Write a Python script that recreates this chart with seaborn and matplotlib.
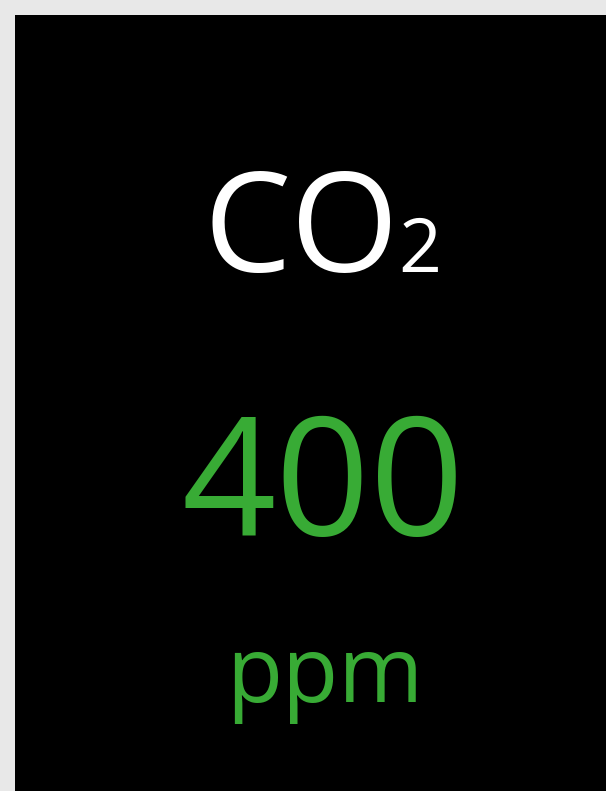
import matplotlib
matplotlib.use("Agg")
import matplotlib.pyplot as plt
import seaborn as sns

# Data
gas_label = ["CO", "2"]
readings = [400]
units = ["ppm"]

sns.set_theme(style="white")
plt.rcParams["font.family"] = ["Open Sans", "DejaVu Sans"]

W, H = 606, 791
fig = plt.figure(figsize=(W / 100, H / 100), dpi=100, facecolor="#e8e8e8")
ax = fig.add_axes([15 / W, 0, (W - 15) / W, (H - 15) / H])
ax.set_facecolor("black")
ax.set_xticks([])
ax.set_yticks([])
sns.despine(ax=ax, left=True, bottom=True)

green = "#38ab35"

def fx(px):
    return px / W

def fy(py):
    return 1 - py / H

fig.text(fx(203), fy(272), gas_label[0], color="white", fontsize=100,
         ha="left", va="baseline")
fig.text(fx(398), fy(272), gas_label[1], color="white", fontsize=54,
         ha="left", va="baseline")
fig.text(fx(323.5), fy(535), str(readings[0]), color=green, fontsize=119,
         ha="center", va="baseline")
fig.text(fx(325), fy(702), units[0], color=green, fontsize=66,
         ha="center", va="baseline")

fig.savefig("out.png", dpi=100, facecolor=fig.get_facecolor())
